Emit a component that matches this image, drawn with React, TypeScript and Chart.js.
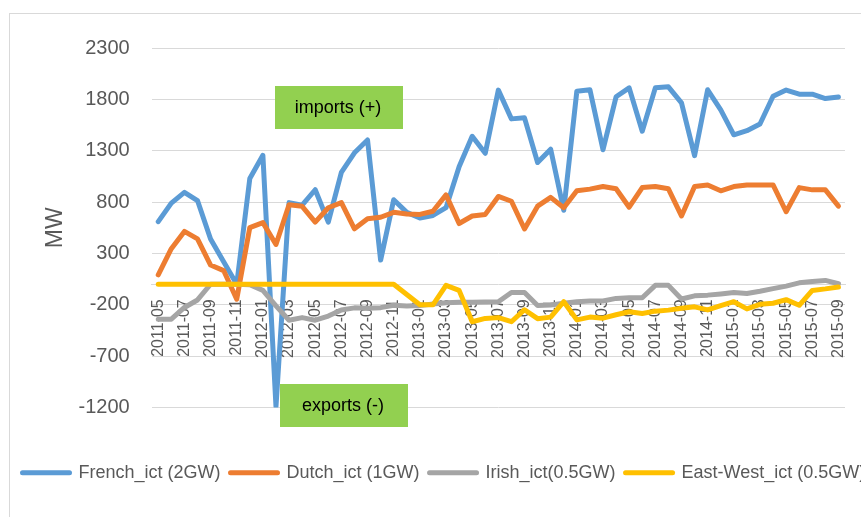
import React, { useEffect, useRef } from 'react';
import { Chart, registerables } from 'chart.js';

Chart.register(...registerables);

const months = [
  '2011-05', '2011-06', '2011-07', '2011-08', '2011-09', '2011-10', '2011-11', '2011-12',
  '2012-01', '2012-02', '2012-03', '2012-04', '2012-05', '2012-06', '2012-07', '2012-08', '2012-09', '2012-10', '2012-11', '2012-12',
  '2013-01', '2013-02', '2013-03', '2013-04', '2013-05', '2013-06', '2013-07', '2013-08', '2013-09', '2013-10', '2013-11', '2013-12',
  '2014-01', '2014-02', '2014-03', '2014-04', '2014-05', '2014-06', '2014-07', '2014-08', '2014-09', '2014-10', '2014-11', '2014-12',
  '2015-01', '2015-02', '2015-03', '2015-04', '2015-05', '2015-06', '2015-07', '2015-08', '2015-09',
];

const french = [
  610, 790, 895, 815, 440, 220, 0, 1030, 1255, -1190, 795, 770, 920, 605, 1090, 1280, 1405, 235, 822, 700,
  645, 670, 745, 1145, 1440, 1275, 1890, 1610, 1620, 1185, 1315, 720, 1880, 1893, 1310, 1825, 1912, 1490, 1912, 1922,
  1766, 1252, 1893, 1697, 1455, 1495, 1560, 1830, 1890, 1850, 1850, 1808, 1823,
];

const dutch = [
  92, 346, 514, 441, 187, 133, -146, 552, 600, 387, 774, 759, 605, 745, 795, 540, 637, 652, 700, 684,
  680, 711, 870, 591, 664, 680, 855, 808, 538, 760, 846, 745, 910, 926, 951, 929, 750, 941, 951, 929,
  665, 951, 967, 910, 951, 967, 967, 967, 706, 941, 919, 919, 760,
];

const irish = [
  -340, -340, -226, -153, 0, 0, 0, -5, -60, -210, -350, -325, -350, -310, -250, -230, -233, -228, -205, -212,
  -208, -192, -180, -176, -176, -172, -170, -80, -80, -208, -202, -186, -170, -163, -163, -138, -132, -132, -11, -11,
  -144, -113, -106, -94, -81, -90, -68, -43, -18, 14, 27, 37, 5,
];

const eastWest = [
  0, 0, 0, 0, 0, 0, 0, 0, 0, 0, 0, 0, 0, 0, 0, 0, 0, 0, 0, -99,
  -200, -200, -11, -60, -365, -333, -325, -365, -248, -335, -320, -170, -347, -320, -330, -297, -268, -284, -262, -252,
  -234, -220, -250, -208, -170, -240, -195, -185, -150, -205, -60, -45, -27,
];

const seriesNames = ['French_ict (2GW)', 'Dutch_ict (1GW)', 'Irish_ict(0.5GW)', 'East-West_ict (0.5GW)'];
const seriesColors = ['#5B9BD5', '#ED7D31', '#A5A5A5', '#FFC000'];
const yTicks = { min: -1200, max: 2300, step: 500 };
const notes = ['imports (+)', 'exports (-)'];

const FONT = "'Liberation Sans', Arial, sans-serif";

const notesPlugin = {
  id: 'notes',
  afterDatasetsDraw(chart: any) {
    const ctx = chart.ctx;
    const boxes = [
      { x: 265, y: 72, w: 128, h: 43, text: notes[0] },
      { x: 270, y: 370, w: 128, h: 43, text: notes[1] },
    ];
    ctx.save();
    for (const b of boxes) {
      ctx.fillStyle = '#92D050';
      ctx.fillRect(b.x, b.y, b.w, b.h);
      ctx.fillStyle = '#000000';
      ctx.font = `18px ${FONT}`;
      ctx.textAlign = 'center';
      ctx.textBaseline = 'middle';
      ctx.fillText(b.text, b.x + b.w / 2 - 1, b.y + b.h / 2 + 1);
    }
    ctx.restore();
  },
};

export default function App() {
  const ref = useRef<HTMLCanvasElement | null>(null);

  useEffect(() => {
    if (!ref.current) return;
    const data = [french, dutch, irish, eastWest];
    const chart = new Chart(ref.current, {
      type: 'line',
      data: {
        labels: months,
        datasets: data.map((d, i) => ({
          label: seriesNames[i],
          data: d,
          borderColor: seriesColors[i],
          backgroundColor: seriesColors[i],
          borderWidth: 5,
          pointRadius: 0,
          tension: 0,
          borderCapStyle: 'round',
          borderJoinStyle: 'round',
          order: 3 - i,
        })),
      },
      options: {
        responsive: false,
        animation: false,
        layout: { padding: { top: 26, left: 2.5, right: 0, bottom: 0.3 } },
        plugins: {
          tooltip: { enabled: false },
          legend: {
            position: 'bottom',
            align: 'start',
            title: { display: true, text: ' ', font: { size: 12 }, padding: { top: 31.8, bottom: 0 } },
            labels: {
              usePointStyle: true,
              pointStyle: 'line',
              pointStyleWidth: 47,
              padding: 10,
              color: '#595959',
              font: { family: FONT, size: 18 },
              generateLabels: (c: any) =>
                c.data.datasets.map((ds: any, i: number) => ({
                  text: ds.label,
                  fillStyle: ds.borderColor,
                  strokeStyle: ds.borderColor,
                  lineWidth: 5,
                  lineCap: 'round',
                  pointStyle: 'line',
                  hidden: false,
                  datasetIndex: i,
                  fontColor: '#595959',
                })),
            },
          },
        },
        scales: {
          x: {
            type: 'category',
            position: { y: 0 } as any,
            offset: true,
            grid: { display: true, color: 'rgba(0,0,0,0)', drawTicks: false },
            border: { display: true, color: '#D9D9D9', width: 1 },
            ticks: {
              autoSkip: false,
              minRotation: 90,
              maxRotation: 90,
              padding: 15,
              color: '#595959',
              font: { family: FONT, size: 16 },
              callback: (_v: any, i: number) => (i % 2 === 0 ? months[i] : ''),
            },
          },
          y: {
            type: 'linear',
            position: 'left',
            min: yTicks.min,
            max: yTicks.max,
            ticks: {
              stepSize: yTicks.step,
              padding: 22,
              color: '#595959',
              font: { family: FONT, size: 20 },
              callback: (v: any) => String(v),
            },
            grid: { color: '#D9D9D9', lineWidth: 1, drawTicks: false },
            border: { display: false },
            title: {
              display: true,
              text: 'MW',
              color: '#595959',
              font: { family: FONT, size: 23 },
              padding: { top: 29.3, bottom: 0 },
            },
            afterFit: (s: any) => {
              s.width = 139.2;
            },
          },
          yR: {
            type: 'linear',
            position: 'right',
            display: true,
            ticks: { display: false },
            grid: { display: false, drawTicks: false },
            border: { display: false },
            afterFit: (s: any) => {
              s.width = 65;
            },
          },
        },
      },
      plugins: [notesPlugin],
    } as any);
    return () => chart.destroy();
  }, []);

  return (
    <div style={{ position: 'fixed', left: 0, top: 0, width: 861, height: 517, overflow: 'hidden', background: '#ffffff' }}>
      <div
        style={{
          position: 'absolute',
          left: 9,
          top: 13,
          width: 900,
          height: 600,
          borderLeft: '1px solid #D9D9D9',
          borderTop: '1px solid #D9D9D9',
        }}
      >
        <canvas ref={ref} width={900} height={478} style={{ display: 'block' }} />
      </div>
    </div>
  );
}
